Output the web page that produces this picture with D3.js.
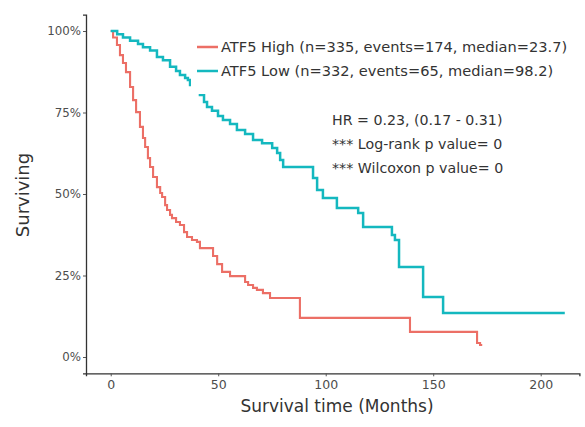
<!DOCTYPE html>
<html>
<head>
<meta charset="utf-8">
<script src="https://cdn.jsdelivr.net/npm/d3@7"></script>
<style>
  html, body { margin: 0; padding: 0; background: #fff; }
  text { font-family: "DejaVu Sans", sans-serif; }
</style>
</head>
<body>
<svg id="chart" width="585" height="427"></svg>
<script>
// Kaplan–Meier steps: time (months) at which survival drops, and the new survival value
const highTimes = [0, 1.1, 2.9, 4.3, 5.7, 7.1, 9, 10.4, 11.8, 13.6, 15, 16, 17.3, 18.3, 19.7, 21.5, 23, 23.9, 25.3, 26.2, 27.6, 28.5, 30.4, 32.2, 34.1, 35.5, 37.8, 40.1, 41.5, 47.6, 49.5, 51.8, 55.5, 62.5, 63.9, 66.2, 68, 70.8, 74.1, 88, 139.2, 170.4, 171.8];
const highSurv  = [1, 0.98, 0.957, 0.926, 0.902, 0.874, 0.828, 0.788, 0.751, 0.706, 0.672, 0.644, 0.61, 0.583, 0.552, 0.521, 0.503, 0.491, 0.466, 0.451, 0.436, 0.426, 0.414, 0.405, 0.383, 0.368, 0.359, 0.353, 0.334, 0.31, 0.285, 0.261, 0.248, 0.23, 0.221, 0.212, 0.206, 0.196, 0.181, 0.12, 0.077, 0.043, 0.037];
const highEnd = 172.8;

const lowTimes = [0, 3, 5.7, 9, 12.7, 15, 18.3, 21.5, 24.3, 27.6, 30.4, 32.2, 34.6, 35.9, 36.9, 39.2, 41.5, 43.4, 44.8, 47.1, 49.9, 52.2, 55.5, 58.7, 62.5, 66.2, 70.4, 75.1, 77.4, 78.8, 80.2, 94.1, 96, 98.7, 105.2, 115.1, 117.4, 130.8, 132.2, 134.1, 145.3, 154.6];
const lowSurv  = [1, 0.99, 0.98, 0.97, 0.96, 0.95, 0.94, 0.92, 0.91, 0.89, 0.877, 0.865, 0.856, 0.85, 0.834, 0.82, 0.804, 0.782, 0.767, 0.755, 0.739, 0.727, 0.715, 0.696, 0.684, 0.666, 0.656, 0.641, 0.626, 0.604, 0.583, 0.549, 0.512, 0.488, 0.457, 0.442, 0.399, 0.374, 0.359, 0.276, 0.184, 0.135];
const lowEnd = 211.2;

const groupNames  = ["ATF5 High (n=335, events=174, median=23.7)", "ATF5 Low (n=332, events=65, median=98.2)"];
const groupColors = ["#ec6f66", "#14b8bf"];
const statLines   = ["HR = 0.23, (0.17 - 0.31)", "*** Log-rank p value= 0", "*** Wilcoxon p value= 0"];

const xTicks = [0, 50, 100, 150, 200];
const yTicks = [0, 0.25, 0.5, 0.75, 1];

const svg = d3.select("#chart");

const x = d3.scaleLinear().domain([-11.5, 218]).range([86, 579.4]);
const y = d3.scaleLinear().domain([-0.05, 1.05]).range([373.3, 14.7]);

function stepPoints(times, surv, end) {
  const pts = times.map((t, i) => [t, surv[i]]);
  pts.push([end, surv[surv.length - 1]]);
  return pts;
}

const line = d3.line()
  .x(d => x(d[0]))
  .y(d => y(d[1]))
  .curve(d3.curveStepAfter);

const series = [
  stepPoints(highTimes, highSurv, highEnd),
  stepPoints(lowTimes, lowSurv, lowEnd)
];

svg.append("g").selectAll("path")
  .data(series)
  .join("path")
  .attr("d", line)
  .attr("fill", "none")
  .attr("stroke", (d, i) => groupColors[i])
  .attr("stroke-width", (d, i) => i === 1 ? 2.5 : 2.1);

// legend with its own white background
const legend = svg.append("g");
legend.append("rect")
  .attr("x", 191).attr("y", 34).attr("width", 386).attr("height", 60)
  .attr("fill", "#fff");
groupNames.forEach((name, i) => {
  const cy = 47 + i * 24;
  legend.append("line")
    .attr("x1", 197).attr("x2", 218).attr("y1", cy).attr("y2", cy)
    .attr("stroke", groupColors[i]).attr("stroke-width", 2.5);
  legend.append("text")
    .attr("x", 221).attr("y", cy).attr("dy", "0.35em")
    .attr("font-size", 14.6).attr("fill", "#333")
    .text(name);
});

// statistics annotation
statLines.forEach((s, i) => {
  svg.append("text")
    .attr("x", 332).attr("y", 120 + i * 24).attr("dy", "0.35em")
    .attr("font-size", 14.2).attr("fill", "#333")
    .text(s);
});

// axes
const xAxis = svg.append("g")
  .attr("transform", "translate(0,373.3)")
  .call(d3.axisBottom(x).tickValues(xTicks).tickSize(3).tickPadding(4));
const yAxis = svg.append("g")
  .attr("transform", "translate(86,0)")
  .call(d3.axisLeft(y).tickValues(yTicks).tickSize(3).tickPadding(2)
    .tickFormat(d => Math.round(d * 100) + "%"));

[xAxis, yAxis].forEach(g => {
  g.select(".domain").attr("stroke", "#333").attr("stroke-width", 1.3);
  g.selectAll(".tick line").attr("stroke", "#555");
  g.selectAll(".tick text").attr("fill", "#4d4d4d")
    .attr("font-family", "DejaVu Sans, sans-serif");
});
xAxis.selectAll(".tick text").attr("font-size", 12.5);
yAxis.selectAll(".tick text").attr("font-size", 11.8);

svg.append("text")
  .attr("x", 337).attr("y", 412)
  .attr("text-anchor", "middle")
  .attr("font-size", 17).attr("fill", "#333")
  .text("Survival time (Months)");

svg.append("text")
  .attr("transform", "translate(23,195) rotate(-90)")
  .attr("text-anchor", "middle").attr("dy", "0.35em")
  .attr("font-size", 18).attr("fill", "#333")
  .text("Surviving");
</script>
</body>
</html>
